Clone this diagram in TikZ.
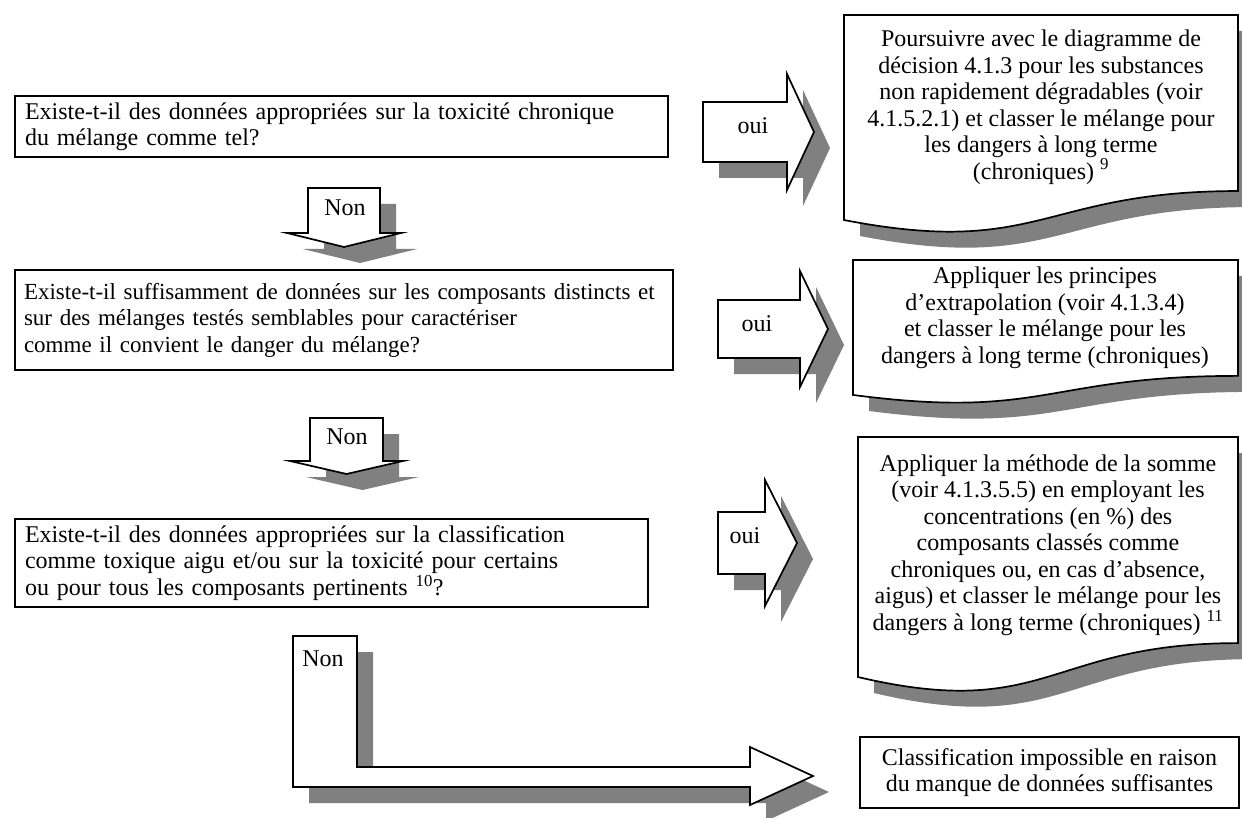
\documentclass[tikz,border=0pt]{standalone}
\usepackage{fontspec}
\setmainfont{Liberation Serif}
\usetikzlibrary{backgrounds}
\definecolor{shadegray}{HTML}{808080}
\newcommand\txtfont{\fontsize{24}{26.5}\selectfont}
\newcommand\widefont{\fontsize{23}{26.5}\selectfont}
\tikzset{
  outline/.style={draw=black, line width=1.7pt, fill=white, line join=miter},
  castshadow/.style={fill=shadegray, draw=none, shift={(16,16)}},
  question/.style={outline, anchor=north west, align=left, inner xsep=10pt,
    inner ysep=0pt, outer sep=0pt, font=\txtfont},
  result/.style={align=center, inner sep=0pt, font=\txtfont},
  arrowlabel/.style={inner sep=0pt, font=\txtfont},
}
% gray drop shadow behind a rectangular node
\newcommand\nodeshadow[1]{%
  \begin{scope}[on background layer]
    \fill[shadegray] ([shift={(16,16)}]#1.north west) rectangle ([shift={(16,16)}]#1.south east);
  \end{scope}}
% document shape with wavy lower edge: style, left, right, top, height
\newcommand\docshape[5]{%
  \path[#1] (#2,#4) -- (#3,#4) -- (#3,{#4+0.802*#5})
    .. controls ({(#2+#3)/2},{#4+0.802*#5}) and ({(#2+#3)/2},{#4+1.107*#5}) ..
    (#2,{#4+0.934*#5}) -- cycle;}
% block arrow pointing right: style, body left, head base, tip, body top, body bottom, head overhang
\newcommand\rightblock[7]{%
  \path[#1] (#2,#5) -- (#3,#5) -- (#3,{#5-#7}) -- (#4,{(#5+#6)/2})
    -- (#3,{#6+#7}) -- (#3,#6) -- (#2,#6) -- cycle;}
% block arrow pointing down: style, body left, body right, top, head base, tip, head overhang
\newcommand\downblock[7]{%
  \path[#1] (#2,#4) -- (#3,#4) -- (#3,#5) -- ({#3+#7},#5) -- ({(#2+#3)/2},#6)
    -- ({#2-#7},#5) -- (#2,#5) -- cycle;}
% bent arrow going down then right
\newcommand\bentblock[1]{%
  \path[#1] (293,636) -- (357,636) -- (357,767) -- (750,767) -- (750,747)
    -- (813,776) -- (750,805) -- (750,787) -- (293,787) -- cycle;}

\begin{document}
\begin{tikzpicture}[x=1pt, y=-1pt]
  \useasboundingbox[fill=white] (0,0) rectangle (1242,818);

  % ---- questions on the left ----
  \node[question, text width=633pt, minimum height=61pt] (q1) at (15,96)
    {Existe-t-il des données appropriées sur la toxicité chronique\\du mélange comme tel?};
  \nodeshadow{q1}
  \node[question, font=\widefont, inner xsep=9pt, text width=640pt, minimum height=100pt] (q2) at (15,270)
    {Existe-t-il suffisamment de données sur les composants distincts et\\
     sur des mélanges testés semblables pour caractériser\\
     comme il convient le danger du mélange?};
  \nodeshadow{q2}
  \node[question, text width=613pt, minimum height=88pt] (q3) at (15,519)
    {Existe-t-il des données appropriées sur la classification\\
     comme toxique aigu et/ou sur la toxicité pour certains\\
     ou pour tous les composants pertinents \textsuperscript{10}?};
  \nodeshadow{q3}

  % ---- outcomes on the right ----
  \docshape{castshadow}{844}{1238}{15}{219.5}
  \docshape{outline}{844}{1238}{15}{219.5}
  \node[result] (r1) at (1041,107)
    {Poursuivre avec le diagramme de\\
     décision 4.1.3 pour les substances\\
     non rapidement dégradables (voir\\
     4.1.5.2.1) et classer le mélange pour\\
     les dangers à long terme\\
     (chroniques) \textsuperscript{9}};

  \docshape{castshadow}{853}{1238}{260}{144.5}
  \docshape{outline}{853}{1238}{260}{144.5}
  \node[result] (r2) at (1045,318)
    {Appliquer les principes\\
     d’extrapolation (voir 4.1.3.4)\\
     et classer le mélange pour les\\
     dangers à long terme (chroniques)};

  \docshape{castshadow}{858}{1238}{437}{257}
  \docshape{outline}{858}{1238}{437}{257}
  \node[result] (r3) at (1048,545)
    {Appliquer la méthode de la somme\\
     (voir 4.1.3.5.5) en employant les\\
     concentrations (en \%) des\\
     composants classés comme\\
     chroniques ou, en cas d’absence,\\
     aigus) et classer le mélange pour les\\
     dangers à long terme (chroniques) \textsuperscript{11}};

  \node[outline, result, anchor=north west, minimum width=379pt, minimum height=71pt,
        outer sep=0pt] (r4) at (860,737)
    {Classification impossible en raison\\du manque de données suffisantes};
  \nodeshadow{r4}

  % ---- "oui" arrows ----
  \rightblock{castshadow}{703}{787}{814}{102}{162}{28}
  \rightblock{outline}{703}{787}{814}{102}{162}{28}
  \node[arrowlabel] (oui1) at (753,126) {oui};

  \rightblock{castshadow}{718}{800}{828}{300}{358}{29}
  \rightblock{outline}{718}{800}{828}{300}{358}{29}
  \node[arrowlabel] (oui2) at (757,324) {oui};

  \rightblock{castshadow}{718}{765}{797}{512}{574}{32}
  \rightblock{outline}{718}{765}{797}{512}{574}{32}
  \node[arrowlabel] (oui3) at (745,536) {oui};

  % ---- "Non" arrows ----
  \downblock{castshadow}{308}{380}{188}{233}{247}{21}
  \downblock{outline}{308}{380}{188}{233}{247}{21}
  \node[arrowlabel] (non1) at (345,208) {Non};

  \downblock{castshadow}{310}{383}{418}{461}{474}{20}
  \downblock{outline}{310}{383}{418}{461}{474}{20}
  \node[arrowlabel] (non2) at (347,437) {Non};

  \bentblock{castshadow}
  \bentblock{outline}
  \node[arrowlabel] (non3) at (323,659) {Non};
\end{tikzpicture}
\end{document}
